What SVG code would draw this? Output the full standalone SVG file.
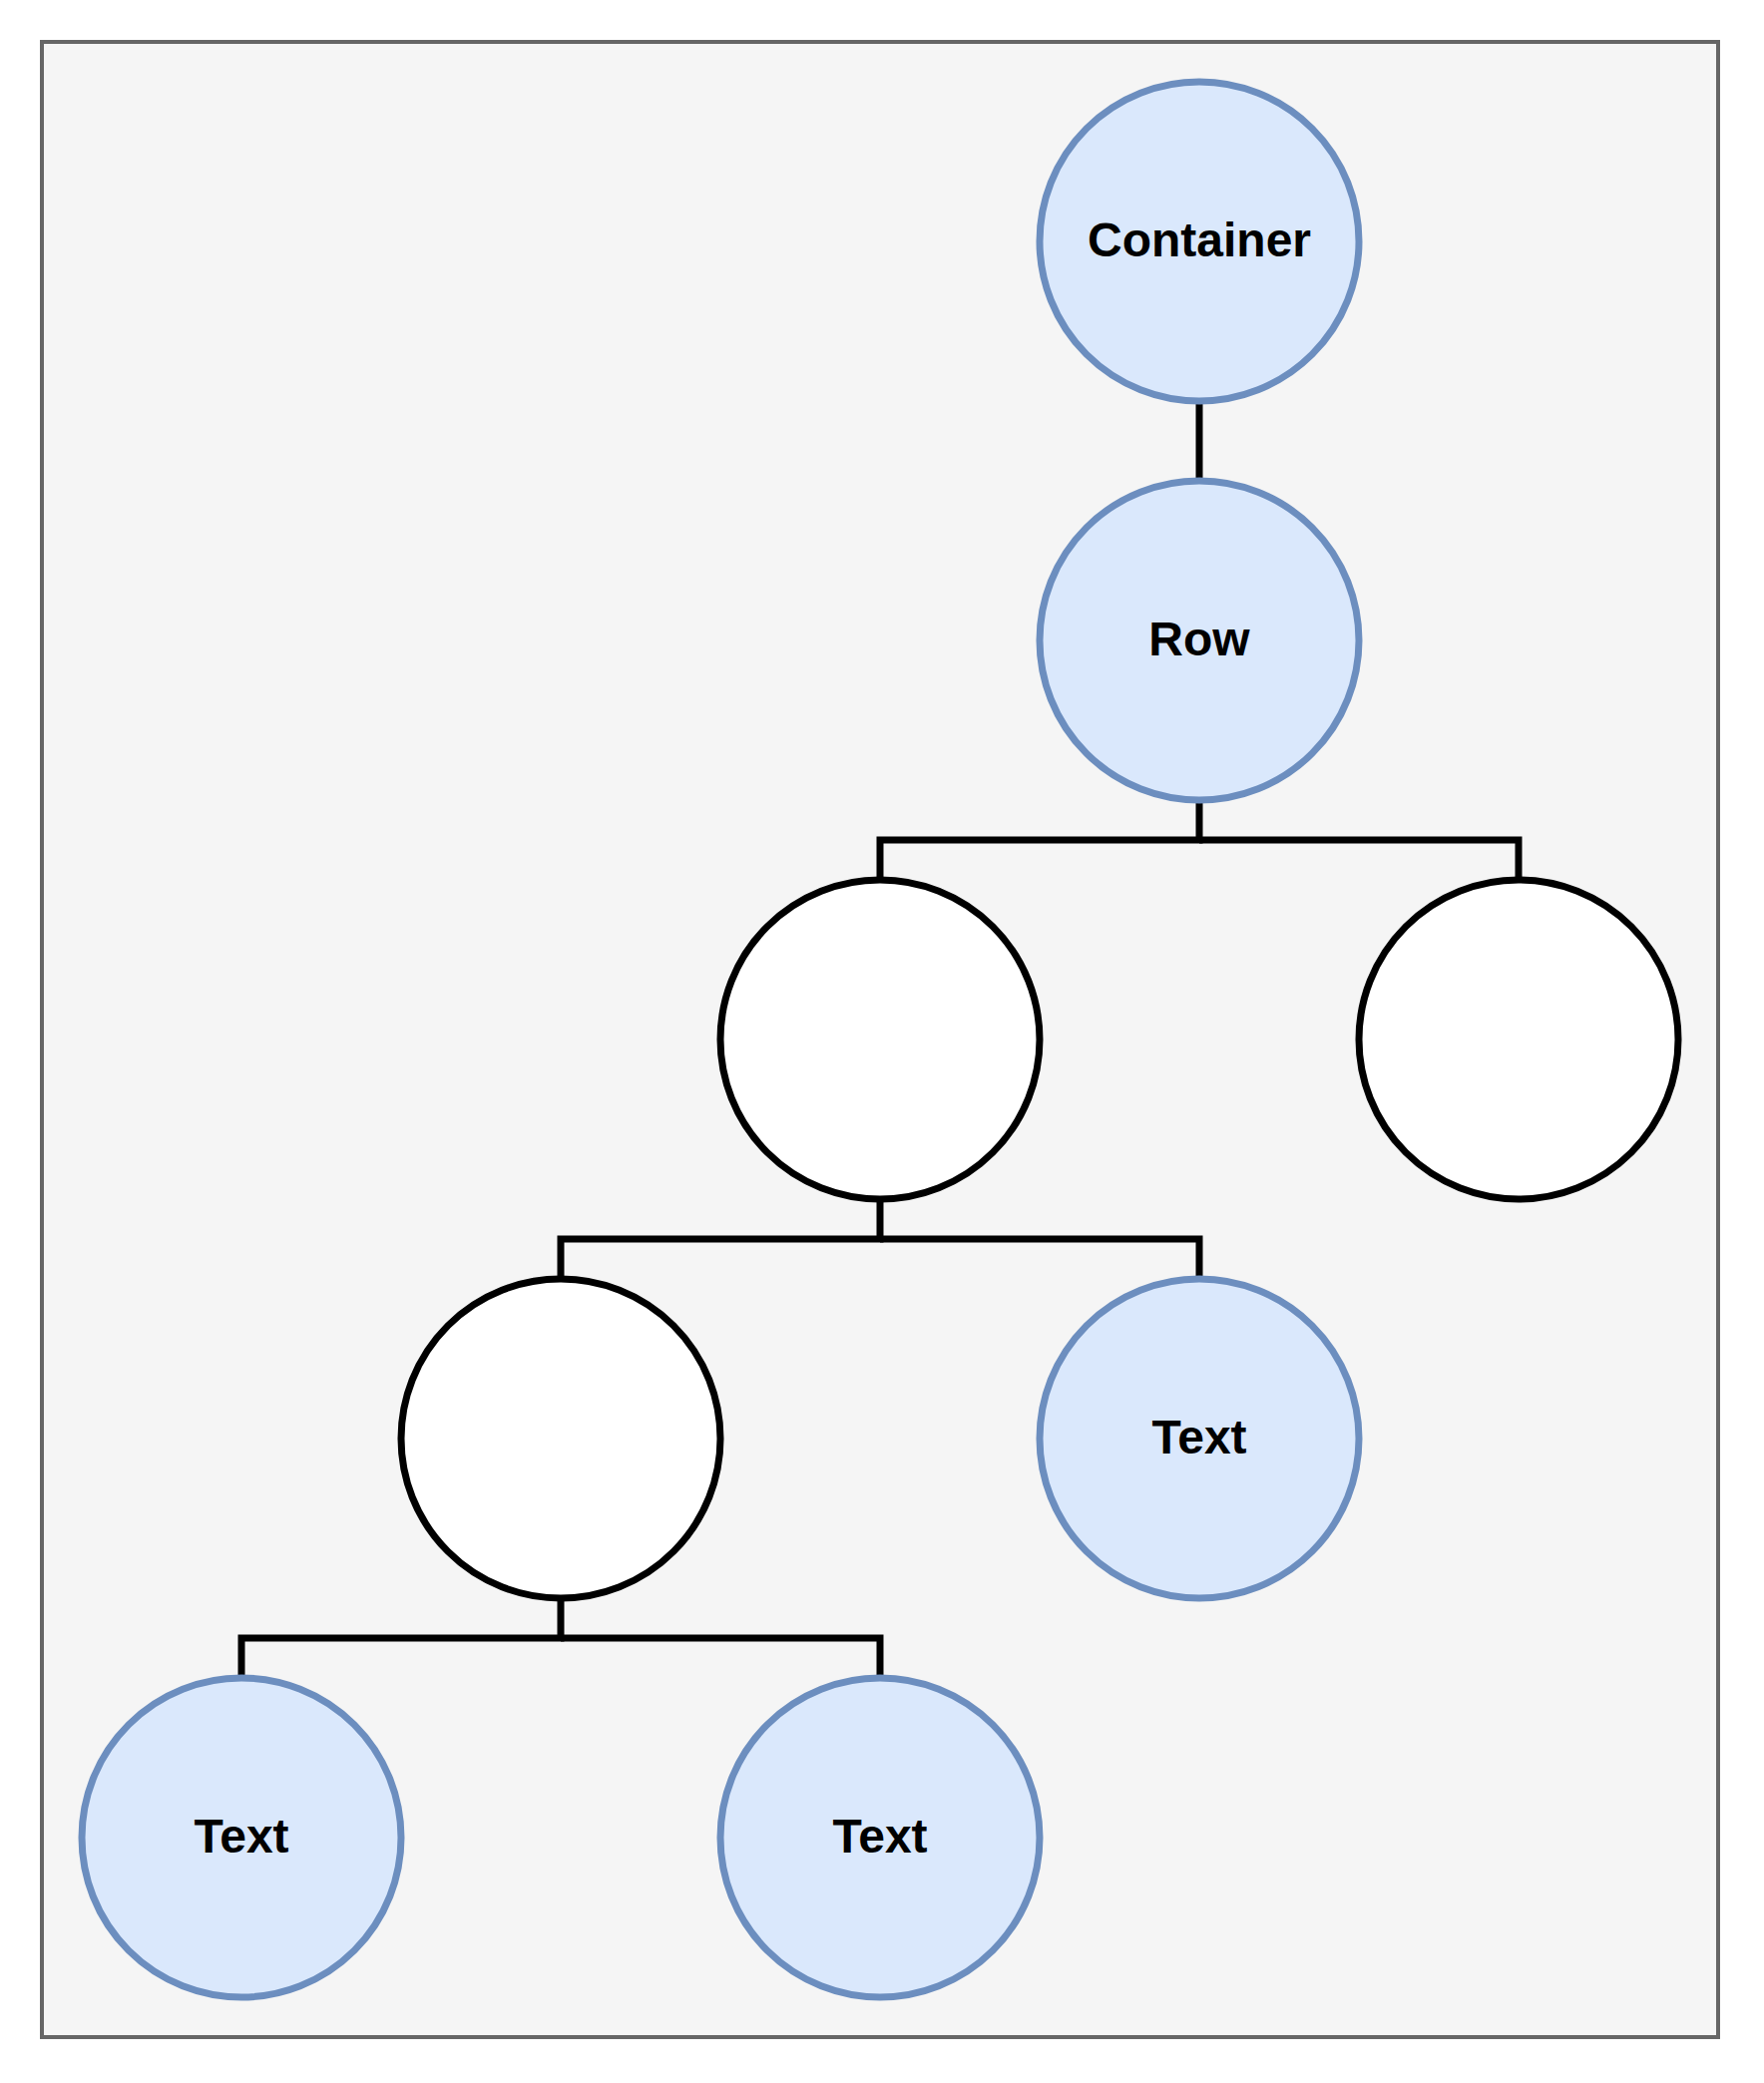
<svg xmlns="http://www.w3.org/2000/svg" width="1768" height="2088" viewBox="0 0 1768 2088">
<style>
.frame{fill:#f5f5f5;stroke:#666666;stroke-width:4}
.blue{fill:#dae8fc;stroke:#6c8ebf;stroke-width:7}
.plain{fill:#ffffff;stroke:#000000;stroke-width:7}
.edge{fill:none;stroke:#000000;stroke-width:7;stroke-linejoin:miter;stroke-linecap:butt}
.lbl{font-family:"Liberation Sans",Arial,Helvetica,sans-serif;font-size:48px;font-weight:bold;fill:#000000;text-anchor:middle}
</style>
<rect class="frame" x="42" y="42" width="1680" height="2000"/>
<g id="connectors">
<path class="edge" d="M1202 402 V482"/>
<path class="edge" d="M1202 802 V842 H882 V882"/>
<path class="edge" d="M1202 842 H1522 V882"/>
<path class="edge" d="M882 1202 V1242 H562 V1282"/>
<path class="edge" d="M882 1242 H1202 V1282"/>
<path class="edge" d="M562 1602 V1642 H242 V1682"/>
<path class="edge" d="M562 1642 H882 V1682"/>
</g>
<g id="container"><circle class="blue" cx="1202" cy="242" r="160"/><text class="lbl" x="1202" y="257">Container</text></g>
<g id="row"><circle class="blue" cx="1202" cy="642" r="160"/><text class="lbl" x="1202" y="657">Row</text></g>
<g id="node-l2a"><circle class="plain" cx="882" cy="1042" r="160"/></g>
<g id="node-l2b"><circle class="plain" cx="1522" cy="1042" r="160"/></g>
<g id="node-l3a"><circle class="plain" cx="562" cy="1442" r="160"/></g>
<g id="text-l3b"><circle class="blue" cx="1202" cy="1442" r="160"/><text class="lbl" x="1202" y="1457">Text</text></g>
<g id="text-l4a"><circle class="blue" cx="242" cy="1842" r="160"/><text class="lbl" x="242" y="1857">Text</text></g>
<g id="text-l4b"><circle class="blue" cx="882" cy="1842" r="160"/><text class="lbl" x="882" y="1857">Text</text></g>
</svg>
